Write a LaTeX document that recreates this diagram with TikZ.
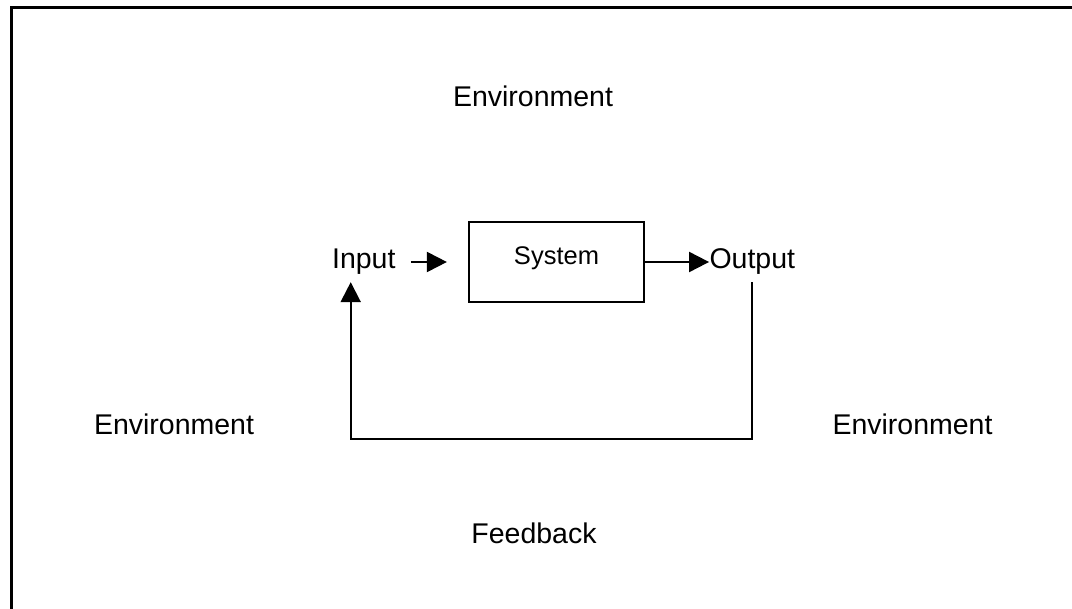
\documentclass[tikz,border=0pt]{standalone}
\usepackage{fontspec}
\setmainfont{Liberation Sans}
\usepackage{tikz}
\usetikzlibrary{positioning}
\usetikzlibrary{arrows.meta}

\begin{document}
\begin{tikzpicture}[x=0.5pt, y=-0.5pt,
		font=\fontsize{14.25}{17}\selectfont,
		lbl/.style={inner sep=0pt, anchor=base},
		arr/.style={-{Triangle[length=10pt, width=10pt]}, line width=1pt}]
	\useasboundingbox (0,0) rectangle (1072,609);
	\draw [line width=1.5pt] (11,609) -- (11,8) -- (1072,8);

	\node [draw, line width=1.1pt,
			font=\fontsize{12.75}{15}\selectfont,
			minimum width=87.5pt, minimum height=40pt,
			text height=9.1pt, text depth=6.1pt] (system) at (556.5,262) {System};
	\node [inner sep=0pt, left=36pt of system] (input) {Input};
	\node [inner sep=0pt, right=32pt of system] (output) {Output};

	\node [lbl] (envtop) at (533,107) {Environment};
	\node [lbl] (envleft) at (174,435) {Environment};
	\node [lbl] (envright) at (912.5,435) {Environment};
	\node [lbl] (feedback) at (534,543) {Feedback};

	\coordinate (fbout) at ([yshift=-3.5pt]output.south);
	\coordinate (fbin) at ([xshift=9.5pt, yshift=-3.5pt]input.south west);
	\coordinate (loopbase) at (0,439);

	\draw [arr, shorten <=7.5pt, shorten >=10.5pt] (input) -- (system);
	\draw [arr] (system) -- (output);
	\draw [arr] (fbout) -- (fbout |- loopbase) -| (fbin);
\end{tikzpicture}
\end{document}
